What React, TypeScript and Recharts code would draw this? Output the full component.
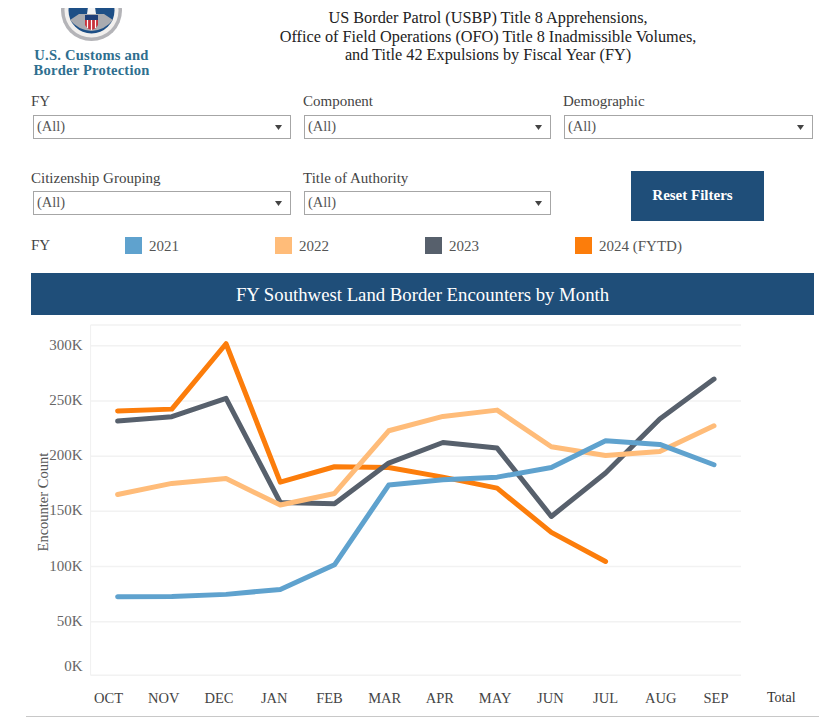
import { CartesianGrid, Line, LineChart, XAxis, YAxis } from "recharts";

const months = ["OCT", "NOV", "DEC", "JAN", "FEB", "MAR", "APR", "MAY", "JUN", "JUL", "AUG", "SEP"];
const fy2021 = [72600, 72800, 74800, 79300, 101600, 173800, 178600, 181000, 189800, 214000, 210600, 192200];
const fy2022 = [165300, 175300, 179800, 155700, 166200, 223000, 236000, 241700, 208500, 200600, 204300, 227500];
const fy2023 = [231800, 235700, 252300, 158000, 157000, 193700, 212400, 207300, 145400, 184700, 233600, 269800];
const fy2024 = [241000, 242600, 301800, 176500, 190400, 189800, 181000, 171000, 131000, 104600, null, null];

// the Tableau axis stops just above zero, so the bottom tick sits at the cut-off and reads 0K
const axisFloor = 1500;
const yTicks = [axisFloor, 50000, 100000, 150000, 200000, 250000, 300000];

const rows = months.map((month, i) => ({
  month,
  fy2021: fy2021[i],
  fy2022: fy2022[i],
  fy2023: fy2023[i],
  fy2024: fy2024[i]
}));

const legendItems = [
  { label: "2021", color: "#5fa2ce", left: 125 },
  { label: "2022", color: "#ffbc79", left: 275 },
  { label: "2023", color: "#57606c", left: 425 },
  { label: "2024 (FYTD)", color: "#fc7d0b", left: 575 }
];

const filters = [
  { label: "FY", labelLeft: 31, left: 33, width: 258, top: 115 },
  { label: "Component", labelLeft: 303, left: 304, width: 247, top: 115 },
  { label: "Demographic", labelLeft: 563, left: 564, width: 249, top: 115 },
  { label: "Citizenship Grouping", labelLeft: 31, left: 33, width: 258, top: 191 },
  { label: "Title of Authority", labelLeft: 303, left: 304, width: 247, top: 191 }
];

const serif = '"Liberation Serif", "Times New Roman", serif';
const navy = "#1f4e79";

function place(left: number, top: number, extra: React.CSSProperties = {}): React.CSSProperties {
  return { position: "absolute", left, top, whiteSpace: "nowrap", ...extra };
}

function Logo() {
  return (
    <>
      <svg width={70} height={36} style={{ position: "absolute", left: 56, top: 7 }} viewBox="56 7 70 36">
        <circle cx={91.5} cy={10.6} r={30.5} fill="#b4b4b8" />
        <circle cx={91.5} cy={10.6} r={27} fill="#f2f0ee" />
        <circle cx={91.5} cy={10.6} r={23} fill="#1d4f86" />
        <path d="M70 20 Q78 30 91.5 31 Q105 30 113 20 L104 14 L79 14 Z" fill="#a9abb0" />
        <rect x={85} y={15} width={13} height={5} fill="#1f3f78" />
        <path d="M85 20 H98 V25 Q96 29 91.5 30 Q87 29 85 25 Z" fill="#c8323c" />
        <path d="M87.5 20 V28 M91.5 20 V30 M95.5 20 V28" stroke="#fff" strokeWidth={1.2} />
        <path d="M88 7 H95 L96 14 H87 Z" fill="#f4f4f4" />
      </svg>
      <div style={place(0, 48, { width: 183, textAlign: "center", color: "#2f6f8f", fontWeight: 700, fontSize: 14.6, lineHeight: "15px", letterSpacing: 0.2 })}>
        U.S. Customs and
        <br />
        Border Protection
      </div>
    </>
  );
}

function Filter({ label, labelLeft, left, width, top }: (typeof filters)[number]) {
  return (
    <>
      <div style={place(labelLeft, top - 22 + (top === 191 ? 1 : 0), { fontSize: 15, lineHeight: "17px", color: "#444" })}>{label}</div>
      <div
        style={place(left, top, {
          width: width - 2,
          height: 22,
          border: "1px solid #a6a6a6",
          fontSize: 14.5,
          lineHeight: "20px",
          color: "#555",
          textIndent: 3
        })}
      >
        (All)
      </div>
      <svg width={7} height={5} style={{ position: "absolute", left: left + width - 16, top: top + 10 }}>
        <path d="M0 0 H7 L3.5 5 Z" fill="#444" />
      </svg>
    </>
  );
}

function YTick({ x, y, payload }: any) {
  const atFloor = payload.value === axisFloor;
  return (
    <text x={x} y={y + (atFloor ? -9 : -1)} dy={5} textAnchor="end" fontFamily={serif} fontSize={15} fill="#666">
      {atFloor ? "0K" : `${Math.round(payload.value / 1000)}K`}
    </text>
  );
}

function EncountersChart() {
  const lineProps = { xAxisId: "points", strokeWidth: 5, strokeLinecap: "round", strokeLinejoin: "round", dot: false, isAnimationActive: false } as const;
  return (
    <LineChart width={838} height={400} data={rows} margin={{ top: 5, right: 97, bottom: 0, left: 0 }}>
      <CartesianGrid vertical={false} xAxisId="labels" stroke="#f2f2f2" strokeWidth={1.5} />
      <XAxis xAxisId="points" dataKey="month" hide padding={{ left: 27, right: 27 }} />
      <XAxis
        xAxisId="labels"
        dataKey="month"
        height={44.7}
        interval={0}
        padding={{ left: 18, right: 25 }}
        axisLine={false}
        tickLine={false}
        tickMargin={11}
        tick={{ fontFamily: serif, fontSize: 14.5, fill: "#444" }}
      />
      <YAxis
        width={90.6}
        domain={[axisFloor, 318800]}
        ticks={yTicks}
        interval={0}
        allowDataOverflow
        axisLine={{ stroke: "#f0f0f0" }}
        tickLine={false}
        tickMargin={2}
        tick={<YTick />}
        label={{
          value: "Encounter Count",
          angle: -90,
          position: "insideLeft",
          offset: 0,
          dx: 43,
          dy: 2,
          style: { fontFamily: serif, fontSize: 14.5, fill: "#555", textAnchor: "middle" }
        }}
      />
      <Line {...lineProps} dataKey="fy2024" stroke="#fc7d0b" />
      <Line {...lineProps} dataKey="fy2023" stroke="#57606c" />
      <Line {...lineProps} dataKey="fy2022" stroke="#ffbc79" />
      <Line {...lineProps} dataKey="fy2021" stroke="#5fa2ce" />
    </LineChart>
  );
}

export default function App() {
  return (
    <div style={{ position: "relative", width: 838, height: 727, margin: -8, overflow: "hidden", background: "#fff", fontFamily: serif }}>
      <Logo />
      <div style={{ ...place(180, 9), width: 616, textAlign: "center", fontSize: 16.25, lineHeight: "18.5px", color: "#222" }}>
        US Border Patrol (USBP) Title 8 Apprehensions,
        <br />
        Office of Field Operations (OFO) Title 8 Inadmissible Volumes,
        <br />
        and Title 42 Expulsions by Fiscal Year (FY)
      </div>

      {filters.map((f) => (
        <Filter key={f.label} {...f} />
      ))}

      <div
        style={place(631, 171, {
          width: 123,
          paddingRight: 10,
          height: 50,
          background: navy,
          color: "#fff",
          fontWeight: 700,
          fontSize: 15,
          lineHeight: "48px",
          textAlign: "center"
        })}
      >
        Reset Filters
      </div>

      <div style={place(31, 237, { fontSize: 15, lineHeight: "17px", color: "#444" })}>FY</div>
      {legendItems.map((item) => (
        <div key={item.label}>
          <div style={place(item.left, 237, { width: 17, height: 17, background: item.color })} />
          <div style={place(item.left + 24, 238, { fontSize: 15, lineHeight: "17px", color: "#555" })}>{item.label}</div>
        </div>
      ))}

      <div
        style={place(31, 273, {
          width: 783,
          height: 42,
          background: navy,
          color: "#fff",
          fontSize: 18.75,
          lineHeight: "44px",
          textAlign: "center"
        })}
      >
        FY Southwest Land Border Encounters by Month
      </div>

      <div style={{ position: "absolute", left: 0, top: 320 }}>
        <EncountersChart />
      </div>

      <div style={place(767, 689, { fontSize: 14, lineHeight: "17px", color: "#333" })}>Total</div>
      <div style={place(26, 716, { width: 793, height: 1, background: "#c8c8c8" })} />
    </div>
  );
}
